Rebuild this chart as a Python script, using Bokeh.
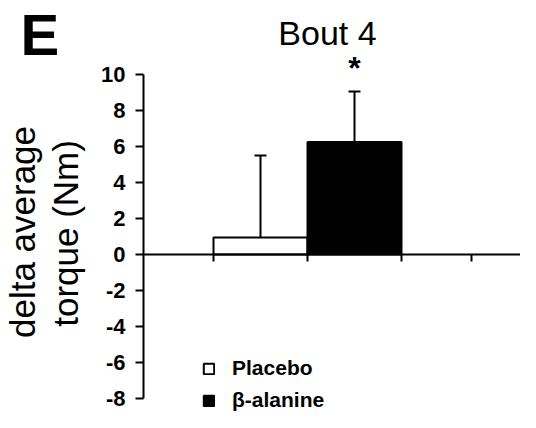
import numpy as np
from bokeh.plotting import figure
from bokeh.models import (ColumnDataSource, Range1d, Label, Whisker, TeeHead,
                          Legend, LegendItem, FixedTicker, LinearAxis,
                          CustomJSTickFormatter)
from bokeh.embed import file_html
from bokeh.resources import INLINE

# ---- data ----
groups = ["Placebo", "β-alanine"]
means = [0.95, 6.25]
errors = [4.55, 2.8]
fills = ["white", "black"]
y_ticks = [-8, -6, -4, -2, 0, 2, 4, 6, 8, 10]
x_ticks = [0.5, 1.5, 2.5, 3.25]
title_text = "Bout 4"
panel_letter = "E"
ylabel_lines = ["delta average", "torque (Nm)"]
FONT = "Liberation Sans"

YAX = -0.2447  # x position of the y axis (data units)

x = list(np.arange(1, len(groups) + 1))
upper = [m + e for m, e in zip(means, errors)]
src = ColumnDataSource(dict(x=x, top=means, upper=upper, fill=fills, group=groups))

p = figure(width=520, height=412, output_backend="svg", toolbar_location=None,
           x_range=Range1d(-1.766, 3.766), y_range=Range1d(-8.778, 14.111),
           x_axis_location=None, y_axis_location=None,
           min_border_left=0, min_border_right=0, min_border_top=0,
           min_border_bottom=0)
p.outline_line_color = None
p.grid.visible = False
p.background_fill_color = "white"
p.border_fill_color = "white"

# y axis at fixed location
yax = LinearAxis(fixed_location=YAX, bounds=(y_ticks[0], y_ticks[-1]),
                 ticker=FixedTicker(ticks=y_ticks),
                 formatter=CustomJSTickFormatter(code="return tick.toFixed(0);"))
yax.axis_line_width = 2
yax.axis_line_color = "black"
yax.major_tick_line_width = 2
yax.major_tick_out = 8
yax.major_tick_in = 0
yax.minor_tick_line_color = None
yax.major_label_standoff = 10
yax.major_label_text_font = FONT
yax.major_label_text_font_size = "22px"
yax.major_label_text_font_style = "bold"
yax.major_label_text_color = "black"
p.add_layout(yax, "left")

# x axis along zero
xax = LinearAxis(fixed_location=0, bounds=(YAX, 3.766),
                 ticker=FixedTicker(ticks=x_ticks))
xax.axis_line_width = 2
xax.axis_line_color = "black"
xax.major_tick_line_width = 2
xax.major_tick_out = 7
xax.major_tick_in = 0
xax.minor_tick_line_color = None
xax.major_label_text_font_size = "0px"
xax.major_label_text_alpha = 0
p.add_layout(xax, "below")

# error bars (upper only)
w = Whisker(source=src, base="x", lower="top", upper="upper", line_width=2,
            line_color="black", lower_head=None,
            upper_head=TeeHead(size=12, line_width=2, line_color="black"))
p.add_layout(w)

bars = p.vbar(x="x", top="top", bottom=0, width=1.0, source=src, fill_color="fill",
              line_color="black", line_width=2)

# legend
r0 = p.vbar(x=[x[0]], top=[0], width=0, fill_color=fills[0], line_color="black", line_width=2)
r1 = p.vbar(x=[x[1]], top=[0], width=0, fill_color=fills[1], line_color="black", line_width=2)
legend = Legend(items=[LegendItem(label=groups[0], renderers=[r0]),
                       LegendItem(label=groups[1], renderers=[r1])],
                location=(202, 0), orientation="vertical",
                glyph_width=13, glyph_height=13, label_standoff=17,
                label_text_font=FONT, label_text_font_size="21px",
                label_text_font_style="bold", label_text_color="black",
                label_height=21, spacing=8, padding=0, margin=0,
                border_line_color=None, background_fill_alpha=0)
p.add_layout(legend, "center")

# texts
p.add_layout(Label(x=1.713, y=12.33, text=title_text, text_align="center",
                   text_baseline="alphabetic", text_font=FONT, text_font_size="34px",
                   text_color="black"))
p.add_layout(Label(x=x[1], y=10.37, text="*", text_align="center",
                   text_baseline="alphabetic", text_font=FONT, text_font_size="32px",
                   text_font_style="bold", text_color="black"))
p.add_layout(Label(x=-1.553, y=14.05, text=panel_letter, text_align="left",
                   text_baseline="top", text_font=FONT, text_font_size="58px",
                   text_font_style="bold", text_color="black"))
p.add_layout(Label(x=-1.532, y=1.25, text=ylabel_lines[0], angle=np.pi / 2,
                   text_align="center", text_baseline="middle", text_font=FONT,
                   text_font_size="35px", text_color="black"))
p.add_layout(Label(x=-1.074, y=1.17, text=ylabel_lines[1], angle=np.pi / 2,
                   text_align="center", text_baseline="middle", text_font=FONT,
                   text_font_size="35px", text_color="black"))

open("out.html", "w").write(file_html(p, INLINE))
